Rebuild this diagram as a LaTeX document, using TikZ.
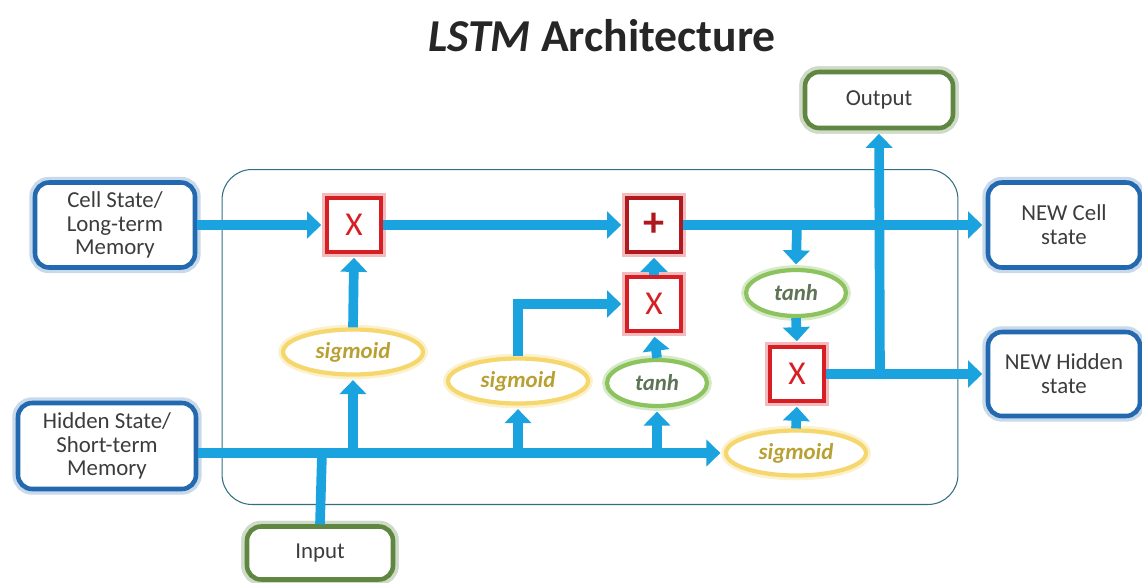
\documentclass[tikz,border=0pt]{standalone}
\usepackage{fontspec}
\setmainfont{Carlito}
\usetikzlibrary{arrows.meta,shapes.geometric,positioning}
\definecolor{flowblue}{RGB}{27,163,224}
\definecolor{boxblue}{RGB}{35,105,175}
\definecolor{boxgreen}{RGB}{95,135,65}
\definecolor{opred}{RGB}{215,30,35}
\definecolor{plusred}{RGB}{175,25,30}
\definecolor{sigyellow}{RGB}{245,215,110}
\definecolor{sigtext}{RGB}{185,160,50}
\definecolor{tanhgreen}{RGB}{140,195,95}
\definecolor{tanhtext}{RGB}{95,115,85}
\definecolor{cellline}{RGB}{50,110,130}
\definecolor{labeltext}{RGB}{60,60,60}
\tikzset{
	flow/.style={draw=flowblue, line width=5.5pt, -{Triangle[width=15pt,length=8pt]}, shorten >=2pt},
	plainflow/.style={draw=flowblue, line width=5.5pt},
	iobox/.style={rectangle, rounded corners=8pt, draw=boxblue, line width=2.6pt, fill=white,
		preaction={draw=boxblue!25, line width=6.5pt}, text=labeltext, align=center,
		font=\fontsize{13}{13.6}\selectfont},
	greenbox/.style={iobox, draw=boxgreen, preaction={draw=boxgreen!30, line width=6.5pt}},
	opbox/.style={rectangle, draw=opred, line width=2.6pt, fill=white, minimum size=1.08cm,
		preaction={draw=opred!30, line width=6pt}, text=opred, font=\fontsize{19}{19}\selectfont},
	gate/.style={ellipse, line width=2.4pt, fill=white, inner sep=0pt,
		font=\fontsize{13}{14}\selectfont\bfseries\itshape},
	sig/.style={gate, draw=sigyellow, preaction={draw=sigyellow!35, line width=5.5pt},
		text=sigtext, minimum width=2.8cm, minimum height=0.9cm},
	tanhgate/.style={gate, draw=tanhgreen, preaction={draw=tanhgreen!35, line width=5.5pt},
		text=tanhtext, minimum width=2cm, minimum height=0.92cm},
	cellframe/.style={rectangle, rounded corners=17pt, draw=cellline, line width=0.6pt}
}
\begin{document}
\begin{tikzpicture}[x=0.02cm, y=-0.02cm]
	\useasboundingbox (0,0) rectangle (1142,582);
	\node[font=\fontsize{26}{30}\selectfont\bfseries, text=black!85] (title) at (602,36) {\textit{LSTM} Architecture};
	\node[cellframe, minimum width=14.72cm, minimum height=6.7cm] (cell) at (590,337) {};
	\node[iobox, minimum width=3.2cm, minimum height=1.7cm] (cellin) at (115,225) {Cell State/\\Long-term\\Memory};
	\node[iobox, minimum width=3.56cm, minimum height=1.72cm] (hidin) at (107,446) {Hidden State/\\Short-term\\Memory};
	\node[greenbox, minimum width=2.92cm, minimum height=1.06cm] (input) at (320,553) {Input};
	\node[greenbox, minimum width=2.96cm, minimum height=1.12cm] (output) at (879,100) {Output};
	\node[iobox, minimum width=3.04cm, minimum height=1.7cm] (newcell) at (1064,225) {NEW Cell\\state};
	\node[iobox, minimum width=3.04cm, minimum height=1.68cm] (newhid) at (1064,374) {NEW Hidden\\state};
	\node[opbox] (forget) at (354,225) {X};
	\node[opbox, draw=plusred, text=plusred, font=\fontsize{24}{24}\selectfont\bfseries] (plus) at (654,225) {+};
	\node[opbox] (update) at (654,304) {X};
	\node[opbox] (outmul) at (797,374) {X};
	\node[sig] (sigf) at (353,352) {sigmoid};
	\node[sig] (sigi) at (518,381) {sigmoid};
	\node[tanhgate] (tanhc) at (657,383) {tanh};
	\node[tanhgate] (tanho) at (796,293) {tanh};
	\node[sig] (sigo) at (796,453) {sigmoid};
	\coordinate (injoin) at (322,453);
	\coordinate (fjoin) at (353,453);
	\coordinate (ijoin) at (518,453);
	\coordinate (cjoin) at (657,453);
	\coordinate (ojoin) at (797,225);
	\coordinate (hjoin) at (880,374);
	\draw[plainflow] (input.north) -- (injoin);
	\draw[flow] (hidin.east |- injoin) -- (sigo.west);
	\draw[flow] (fjoin) -- (sigf.south);
	\draw[flow] (ijoin) -- (sigi.south);
	\draw[flow] (cjoin) -- (tanhc.south);
	\draw[flow] (sigf.north) -- (forget.south);
	\draw[flow] (sigi.north) |- (update.west);
	\draw[flow] (tanhc.north) -- (update.south);
	\draw[flow] (update.north) -- (plus.south);
	\draw[flow] (cellin.east) -- (forget.west);
	\draw[flow] (forget.east) -- (plus.west);
	\draw[flow] (plus.east) -- (newcell.west);
	\draw[flow] (ojoin) -- (tanho.north);
	\draw[flow] (tanho.south) -- (outmul.north);
	\draw[flow] (sigo.north) -- (outmul.south);
	\draw[flow] (outmul.east) -- (newhid.west);
	\draw[flow] (hjoin) -- (output.south);
\end{tikzpicture}
\end{document}
